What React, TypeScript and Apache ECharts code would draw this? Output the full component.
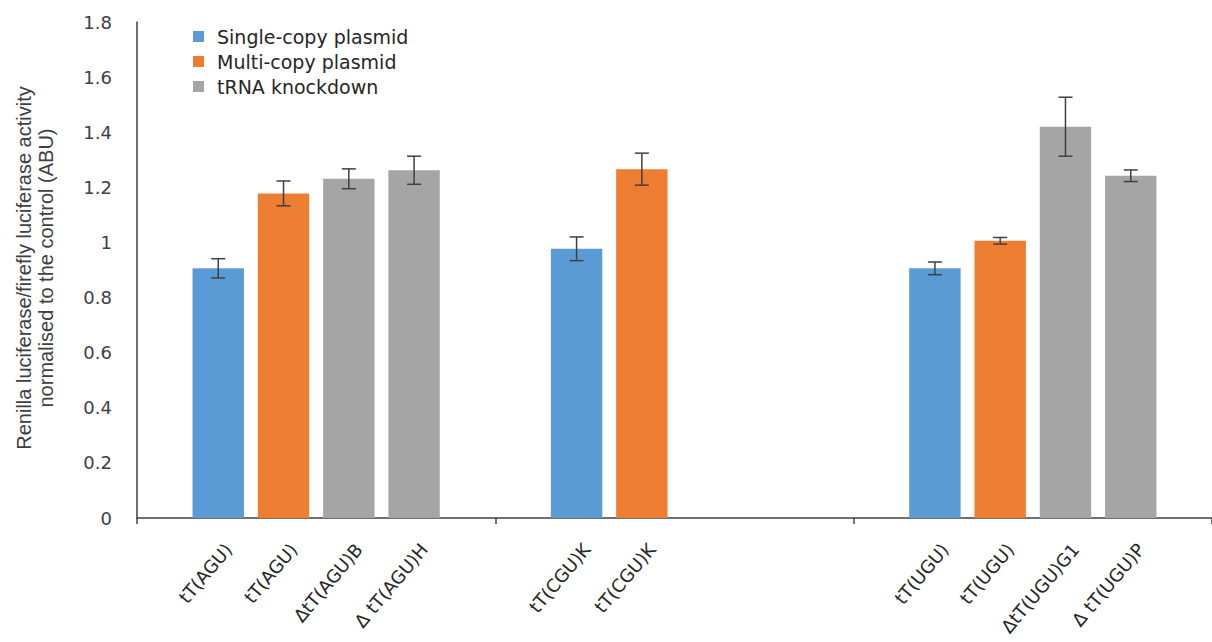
import React, { useEffect, useRef } from "react";
import * as echarts from "echarts";

// Groups along the x axis (one per tRNA family)
const groups = ["tT(AGU)", "tT(CGU)", "tT(UGU)"];

// Mean ratios and error bar half-lengths, one entry per group
const singleCopy = [0.906, 0.977, 0.906];
const singleCopyErr = [0.035, 0.043, 0.023];
const multiCopy = [1.178, 1.266, 1.006];
const multiCopyErr = [0.045, 0.058, 0.012];
const knockdownA = [1.231, null, 1.42];
const knockdownAErr = [0.036, null, 0.107];
const knockdownB = [1.262, null, 1.242];
const knockdownBErr = [0.051, null, 0.021];

// Strain labels printed under each bar
const singleLabels = ["tT(AGU)", "tT(CGU)K", "tT(UGU)"];
const multiLabels = ["tT(AGU)", "tT(CGU)K", "tT(UGU)"];
const knockALabels = ["ΔtT(AGU)B", "", "ΔtT(UGU)G1"];
const knockBLabels = ["Δ tT(AGU)H", "", "Δ tT(UGU)P"];

const yTicks = { min: 0, max: 1.8, interval: 0.2 };

const BLUE = "#5B9BD5";
const ORANGE = "#ED7D31";
const GREY = "#A5A5A5";
const INK = "#404040";

const CAT_GAP = 0.31;
const BAR_GAP = 0.27;
const SLOTS = 4;

const LABEL_ROT = 50;

export default function App() {
  const ref = useRef<HTMLDivElement>(null);

  useEffect(() => {
    if (!ref.current) return;
    const chart = echarts.init(ref.current, null, { renderer: "svg" });

    const rad = (LABEL_ROT * Math.PI) / 180;
    const sx = 10;
    const sy = 0;
    const labelOffset = [
      sx * Math.cos(rad) - sy * Math.sin(rad),
      sx * Math.sin(rad) + sy * Math.cos(rad),
    ];

    const barLabel = (names: string[]) => ({
      show: true,
      position: "bottom",
      distance: 28,
      rotate: LABEL_ROT,
      align: "right",
      verticalAlign: "middle",
      offset: labelOffset,
      color: "#262626",
      fontFamily: "DejaVu Sans",
      fontSize: 18,
      formatter: (p: any) => names[p.dataIndex] || "",
    });

    const makeBar = (name: string, color: string, values: (number | null)[], names: string[]) => ({
      type: "bar",
      name,
      data: values.map((v) => (v == null ? "-" : v)),
      itemStyle: { color },
      barCategoryGap: CAT_GAP * 100 + "%",
      barGap: BAR_GAP * 100 + "%",
      label: barLabel(names),
      z: 2,
    });

    // Error bars: [groupIndex, mean, halfLength, slot]
    const errData: number[][] = [];
    const pushErr = (vals: (number | null)[], errs: (number | null)[], slot: number) => {
      vals.forEach((v, i) => {
        if (v != null && errs[i] != null) errData.push([i, v, errs[i] as number, slot]);
      });
    };
    pushErr(singleCopy, singleCopyErr, 0);
    pushErr(multiCopy, multiCopyErr, 1);
    pushErr(knockdownA, knockdownAErr, 2);
    pushErr(knockdownB, knockdownBErr, 3);

    const option: any = {
      animation: false,
      backgroundColor: "#ffffff",
      grid: { left: 137, right: 0, top: 22, bottom: 642 - 518, containLabel: false },
      legend: {
        orient: "vertical",
        left: 188,
        top: 22,
        itemWidth: 11,
        itemHeight: 11,
        itemGap: 6,
        icon: "rect",
        data: ["Single-copy plasmid", "Multi-copy plasmid", "tRNA knockdown"],
        textStyle: {
          color: "#262626",
          fontFamily: "DejaVu Sans",
          fontSize: 19,
          lineHeight: 19,
          padding: [0, 0, 0, 8],
        },
      },
      xAxis: {
        type: "category",
        data: groups,
        axisLine: { show: true, lineStyle: { color: INK, width: 1.5 } },
        axisTick: { show: true, length: 6, lineStyle: { color: INK, width: 1.5 } },
        axisLabel: { show: false },
      },
      yAxis: {
        type: "value",
        min: yTicks.min,
        max: yTicks.max,
        interval: yTicks.interval,
        axisLine: { show: true, lineStyle: { color: INK, width: 1.5 } },
        axisTick: { show: false },
        splitLine: { show: false },
        axisLabel: {
          color: INK,
          fontFamily: "DejaVu Sans",
          fontSize: 18,
          margin: 25,
        },
      },
      graphic: [
        {
          type: "text",
          x: 35,
          y: 268,
          rotation: Math.PI / 2,
          style: {
            text: "Renilla luciferase/firefly luciferase activity\nnormalised to the control (ABU)",
            fontFamily: "Liberation Sans",
            fontSize: 20,
            lineHeight: 22,
            fill: INK,
            textAlign: "center",
            textVerticalAlign: "middle",
          },
        },
      ],
      series: [
        makeBar("Single-copy plasmid", BLUE, singleCopy, singleLabels),
        makeBar("Multi-copy plasmid", ORANGE, multiCopy, multiLabels),
        makeBar("tRNA knockdown", GREY, knockdownA, knockALabels),
        makeBar("tRNA knockdown", GREY, knockdownB, knockBLabels),
        {
          type: "custom",
          name: "error",
          data: errData,
          z: 5,
          silent: true,
          renderItem: (params: any, api: any) => {
            const cat = api.value(0);
            const mean = api.value(1);
            const err = api.value(2);
            const slot = api.value(3);
            const band = api.size([1, 0])[0];
            const usable = band * (1 - CAT_GAP);
            const bw = usable / (SLOTS + (SLOTS - 1) * BAR_GAP);
            const off = -usable / 2 + bw / 2 + slot * bw * (1 + BAR_GAP);
            const top = api.coord([cat, mean + err]);
            const bot = api.coord([cat, mean - err]);
            const x = top[0] + off;
            const cap = 7;
            const style = { stroke: INK, lineWidth: 1.5 };
            return {
              type: "group",
              children: [
                { type: "line", shape: { x1: x, y1: top[1], x2: x, y2: bot[1] }, style },
                { type: "line", shape: { x1: x - cap, y1: top[1], x2: x + cap, y2: top[1] }, style },
                { type: "line", shape: { x1: x - cap, y1: bot[1], x2: x + cap, y2: bot[1] }, style },
              ],
            };
          },
        },
      ],
    };

    chart.setOption(option);
    return () => chart.dispose();
  }, []);

  return (
    <div
      ref={ref}
      style={{ position: "absolute", left: 0, top: 0, width: 1212, height: 642 }}
    />
  );
}
